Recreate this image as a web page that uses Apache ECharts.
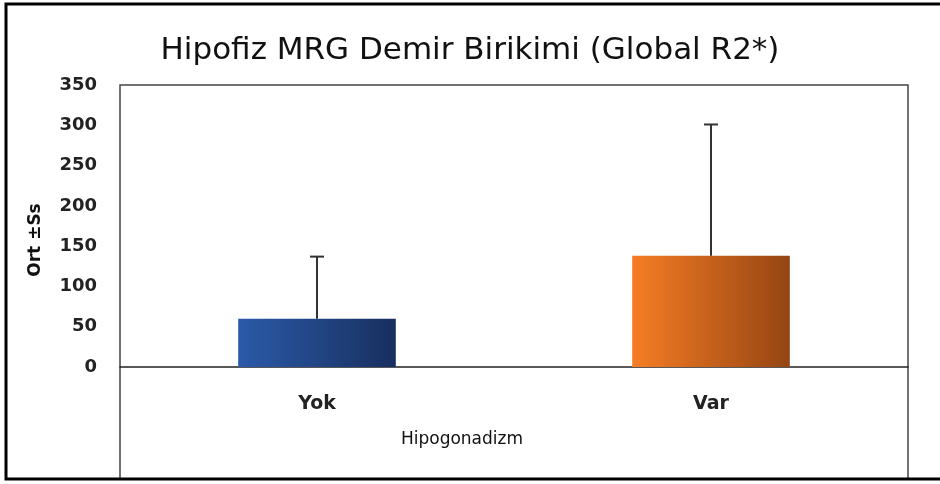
<!DOCTYPE html>
<html>
<head>
<meta charset="utf-8">
<script src="https://cdn.jsdelivr.net/npm/echarts@6/dist/echarts.min.js"></script>
<style>
  html, body { margin: 0; padding: 0; background: #fff; }
  #main { width: 940px; height: 484px; }
</style>
</head>
<body>
<div id="main"></div>
<script>
// data
var categories = ['Yok', 'Var'];
var means = [60, 138];
var sds = [77, 163];
var barColors = [['#2b5aa9', '#182f5f'], ['#f67d25', '#954512']];

var myChart = echarts.init(document.getElementById('main'));

var barData = means.map(function (v, i) {
    return {
        value: v,
        itemStyle: {
            color: new echarts.graphic.LinearGradient(0, 0, 1, 0, [
                { offset: 0, color: barColors[i][0] },
                { offset: 1, color: barColors[i][1] }
            ])
        }
    };
});

var errData = means.map(function (v, i) {
    return [i, v, v + sds[i]];
});

var labelFont = 'DejaVu Sans';

var option = {
    animation: false,
    title: {
        text: 'Hipofiz MRG Demir Birikimi (Global R2*)',
        left: 'center',
        top: 30,
        padding: [5, 5, 5, 25],
        textStyle: { fontFamily: labelFont, fontSize: 31, fontWeight: 'normal', color: '#111' }
    },
    // outer frame: left, top and bottom sides only (right side is cut off)
    graphic: [{
        type: 'polyline',
        shape: { points: [[945, 4], [6, 4], [6, 479], [945, 479]] },
        style: { fill: null, stroke: '#000', lineWidth: 3 },
        silent: true
    }],
    grid: [
        { left: 120, right: 32, top: 85, bottom: 117 },
        { left: 120, right: 32, top: 85, bottom: 5, show: true, borderColor: '#444', borderWidth: 1.5 }
    ],
    xAxis: [{
        type: 'category',
        data: categories,
        name: 'Hipogonadizm',
        nameLocation: 'middle',
        nameGap: 64,
        nameTextStyle: { fontFamily: labelFont, fontSize: 17, color: '#111', padding: [0, 104, 0, 0] },
        axisLine: { lineStyle: { color: '#222', width: 1.5 } },
        axisTick: { show: false },
        axisLabel: { margin: 28, fontFamily: labelFont, fontSize: 19, fontWeight: 'bold', color: '#222' }
    }, {
        gridIndex: 1, type: 'category', show: false
    }],
    yAxis: [{
        type: 'value',
        min: 0,
        max: 350,
        interval: 50,
        name: 'Ort \u00b1Ss',
        nameLocation: 'middle',
        nameGap: 76,
        nameTextStyle: { fontFamily: labelFont, fontSize: 17, fontWeight: 'bold', color: '#111', padding: [0, 28, 0, 0] },
        axisLine: { show: false },
        axisTick: { show: false },
        splitLine: { show: false },
        axisLabel: { margin: 23, fontFamily: labelFont, fontSize: 18, fontWeight: 'bold', color: '#222' }
    }, {
        gridIndex: 1, type: 'value', show: false
    }],
    series: [{
        type: 'bar',
        data: barData,
        barWidth: '40%'
    }, {
        type: 'custom',
        data: errData,
        z: 3,
        renderItem: function (params, api) {
            var base = api.coord([api.value(0), api.value(1)]);
            var top = api.coord([api.value(0), api.value(2)]);
            var half = 7;
            var st = { stroke: '#333', lineWidth: 2 };
            return {
                type: 'group',
                children: [
                    { type: 'line', shape: { x1: base[0], y1: base[1], x2: top[0], y2: top[1] }, style: st },
                    { type: 'line', shape: { x1: top[0] - half, y1: top[1], x2: top[0] + half, y2: top[1] }, style: st }
                ]
            };
        }
    }]
};
myChart.setOption(option);
</script>
</body>
</html>
